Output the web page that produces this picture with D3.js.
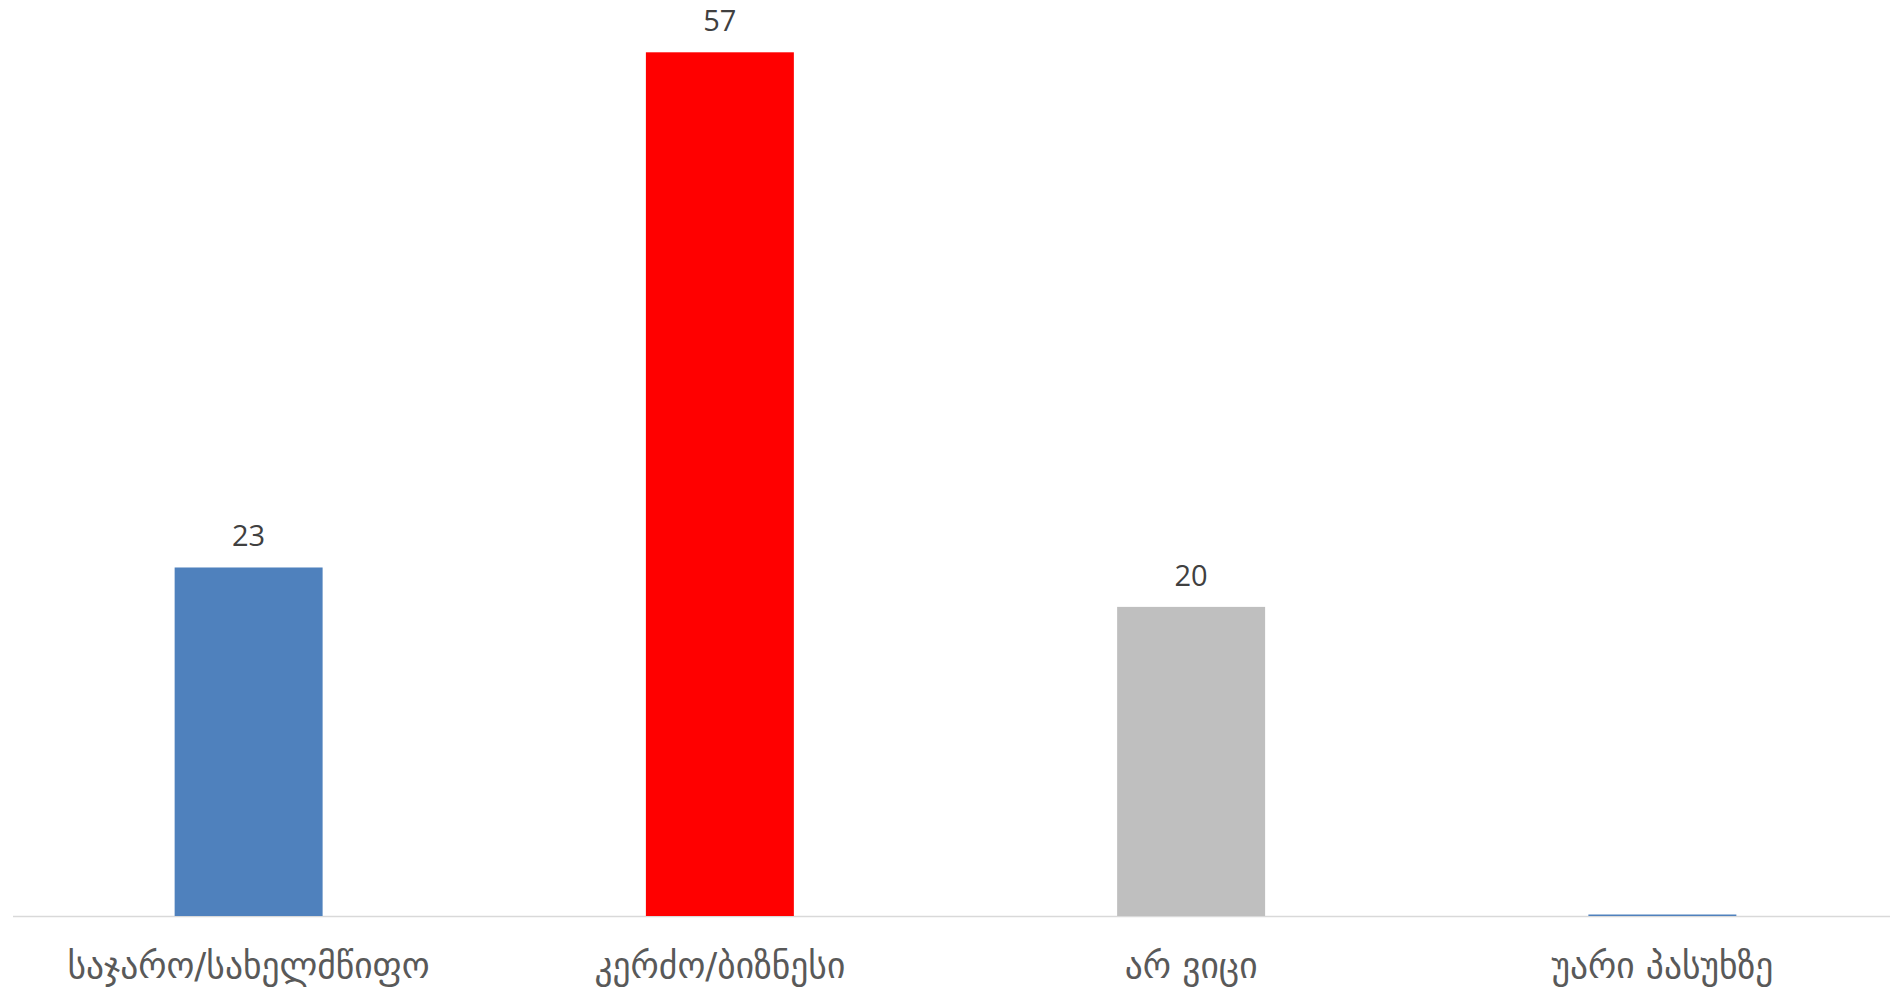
<!DOCTYPE html>
<html><head><meta charset="utf-8">
<script src="https://cdn.jsdelivr.net/npm/d3@7"></script>
<style>html,body{margin:0;padding:0;background:#fff;overflow:hidden}</style>
</head><body>
<svg id="c" width="1890" height="991"></svg>
<script>
const categories = ["საჯარო/სახელმწიფო","კერძო/ბიზნესი","არ ვიცი","უარი პასუხზე"];
const values = [23, 57, 20.4, 0];
const colors = ["#4f81bd","#ff0000","#bfbfbf","#4f81bd"];

const svg = d3.select("#c");
const baseY = 916, topY = 52.3;
const x = d3.scaleBand().domain(categories).range([13, 1898]).paddingInner(0.686).paddingOuter(0.343);
const y = d3.scaleLinear().domain([0, 57]).range([baseY, topY]);

svg.append("line").attr("x1", 13).attr("x2", 1890).attr("y1", baseY + 0.5).attr("y2", baseY + 0.5)
  .attr("stroke", "#d9d9d9").attr("stroke-width", 1.5);

svg.selectAll("rect.bar").data(values).enter().append("rect")
  .attr("x", (d,i) => x(categories[i]))
  .attr("width", x.bandwidth())
  .attr("y", d => d > 0 ? y(d) : baseY - 1.5)
  .attr("height", d => d > 0 ? baseY - y(d) : 1.5)
  .attr("fill", (d,i) => colors[i]);

svg.selectAll("text.val").data(values.map((v,i)=>({v,i}))).enter().filter(d => d.v > 0).append("text")
  .attr("x", d => x(categories[d.i]) + x.bandwidth()/2)
  .attr("y", d => y(d.v) - 21)
  .attr("text-anchor", "middle")
  .attr("font-family", "'Open Sans', sans-serif")
  .attr("font-size", 29)
  .attr("fill", "#404040")
  .text(d => d3.format(".0f")(d.v));

svg.selectAll("text.cat").data(categories).enter().append("text")
  .attr("x", d => x(d) + x.bandwidth()/2)
  .attr("y", 978)
  .attr("text-anchor", "middle")
  .attr("font-family", "'DejaVu Sans', sans-serif")
  .attr("font-size", 35.5)
  .attr("fill", "#595959")
  .text(d => d);
</script>
</body></html>
